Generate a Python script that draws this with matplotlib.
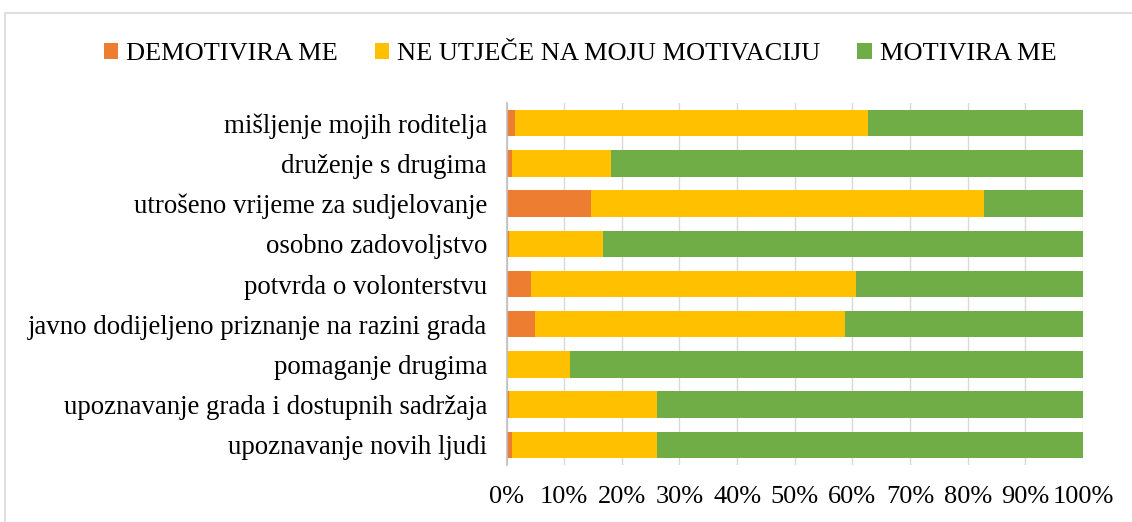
import matplotlib.pyplot as plt
from matplotlib.patches import Rectangle
import numpy as np

plt.rcParams['font.family'] = ['Liberation Serif', 'DejaVu Serif']

# categories, top to bottom as shown
categories = [
    'mišljenje mojih roditelja',
    'druženje s drugima',
    'utrošeno vrijeme za sudjelovanje',
    'osobno zadovoljstvo',
    'potvrda o volonterstvu',
    'javno dodijeljeno priznanje na razini grada',
    'pomaganje drugima',
    'upoznavanje grada i dostupnih sadržaja',
    'upoznavanje novih ljudi',
]
demotivira = [1.5, 0.9, 14.7, 0.4, 4.3, 4.9, 0.0, 0.4, 0.9]
ne_utjece = [61.2, 17.3, 68.1, 16.3, 56.3, 53.8, 11.1, 25.7, 25.2]
motivira = [100 - a - b for a, b in zip(demotivira, ne_utjece)]

series = ['DEMOTIVIRA ME', 'NE UTJEČE NA MOJU MOTIVACIJU', 'MOTIVIRA ME']
colors = ['#ED7D31', '#FFC000', '#70AD47']
ticks = [0, 10, 20, 30, 40, 50, 60, 70, 80, 90, 100]

fs = 19

fig = plt.figure(figsize=(11.32, 5.22), dpi=100)
fig.patch.set_facecolor('white')
fig.patches.append(Rectangle((5 / 1132, -0.1), 1.2, (522 - 13) / 522 + 0.1,
                             transform=fig.transFigure, fill=False,
                             edgecolor='#d9d9d9', linewidth=1.2))

ax = fig.add_axes([506.5 / 1132, (522 - 465) / 522, (1083 - 506.5) / 1132, (465 - 103) / 522])

y = np.arange(len(categories))
left = np.zeros(len(categories))
for name, vals, col in zip(series, [demotivira, ne_utjece, motivira], colors):
    ax.barh(y, vals, left=left, height=0.66, color=col, label=name, zorder=3)
    left += np.array(vals)

ax.set_xlim(0, 100)
ax.set_ylim(len(categories) - 0.5, -0.5)
ax.set_yticks(y)
ax.set_yticklabels(categories, fontsize=19.4)
ax.set_xticks(ticks)
ax.set_xticklabels([f'{t}%' for t in ticks], fontsize=fs)
ax.tick_params(length=0)
ax.tick_params(axis='y', pad=14)
ax.tick_params(axis='x', pad=15)
ax.grid(axis='x', color='#d9d9d9', linewidth=1, zorder=0)
for s in ['top', 'right', 'bottom']:
    ax.spines[s].set_visible(False)
ax.spines['left'].set_color('#bfbfbf')
ax.spines['left'].set_linewidth(1.2)
ax.spines['left'].set_zorder(4)

fig.legend(loc='center', bbox_to_anchor=(580 / 1132, 1 - 54 / 522), ncol=3, frameon=False,
           fontsize=fs, handlelength=0.55, handleheight=0.55, handletextpad=0.3,
           columnspacing=1.4, borderaxespad=0)

fig.savefig('out.png', dpi=100)
